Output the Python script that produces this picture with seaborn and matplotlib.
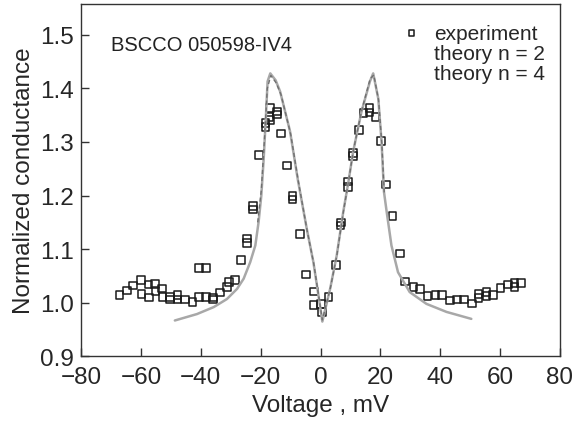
import numpy as np
import pandas as pd
import matplotlib
matplotlib.use('Agg')
import matplotlib.pyplot as plt
import seaborn as sns

exp_v = [-67.2, -64.6, -62.6, -60.1, -59.9, -57.5, -57.4, -55.3, -55.2, -52.9,
         -52.8, -50.4, -50.4, -47.8, -47.8, -45.4, -42.8, -40.7, -40.6, -38.3,
         -38.2, -35.9, -35.9, -33.7, -31.2, -30.5, -28.5, -26.5, -24.6, -24.6,
         -22.5, -22.5, -20.5, -18.4, -18.4, -17.1, -16.8, -16.8, -14.5, -14.5,
         -13.2, -11.2, -9.4, -9.4, -6.9, -4.8, -2.2, -2.4, 0.1, 0.5,
         2.7, 5.2, 6.7, 6.9, 9.1, 9.1, 10.9, 10.9, 12.8, 14.3,
         16.3, 16.3, 18.4, 20.2, 21.8, 24.1, 26.5, 28.3, 31.1, 33.3,
         35.7, 38.4, 40.7, 43.3, 45.6, 48.0, 50.6, 52.8, 52.8, 55.5,
         55.5, 57.6, 60.1, 62.6, 64.8, 64.8, 67.1]
exp_g = [1.015, 1.023, 1.032, 1.042, 1.016, 1.034, 1.010, 1.035, 1.022, 1.027,
         1.011, 1.011, 1.006, 1.015, 1.006, 1.006, 1.002, 1.065, 1.011, 1.065,
         1.011, 1.006, 1.010, 1.019, 1.030, 1.039, 1.042, 1.080, 1.120, 1.112,
         1.181, 1.174, 1.276, 1.335, 1.328, 1.347, 1.363, 1.341, 1.357, 1.351,
         1.316, 1.256, 1.199, 1.193, 1.128, 1.053, 1.021, 0.996, 0.998, 0.983,
         1.011, 1.070, 1.144, 1.150, 1.226, 1.216, 1.280, 1.274, 1.322, 1.354,
         1.363, 1.355, 1.347, 1.302, 1.221, 1.162, 1.092, 1.040, 1.029, 1.026,
         1.013, 1.014, 1.014, 1.004, 1.006, 1.006, 0.999, 1.016, 1.009, 1.020,
         1.013, 1.015, 1.028, 1.034, 1.037, 1.029, 1.037]

# theory curves
th2_v = [-48.7, -41.3, -35.7, -31.3, -27.9, -25.7, -23.5, -21.8, -20.7, -19.8,
         -19.0, -18.3, -17.7, -16.8, -15.0, -13.5, -10.2, -7.6, -4.6, -2.4,
         -0.7, 0.6, 3.2, 5.4, 7.6, 9.3, 10.9, 13.7, 16.5, 17.6,
         19.3, 20.4, 21.2, 22.1, 23.7, 25.9, 29.8, 35.4, 42.1, 50.4]
th2_g = [0.967, 0.979, 0.992, 1.007, 1.026, 1.045, 1.076, 1.107, 1.151, 1.200,
         1.269, 1.344, 1.413, 1.428, 1.415, 1.394, 1.320, 1.230, 1.138, 1.076,
         1.014, 0.965, 1.026, 1.088, 1.170, 1.225, 1.282, 1.357, 1.413, 1.428,
         1.381, 1.300, 1.207, 1.170, 1.107, 1.057, 1.020, 0.998, 0.983, 0.970]

th4_v = [-21.0, -19.8, -18.8, -17.8, -16.6, -14.8, -13.2, -10.0, -7.4, -4.5,
         -2.3, -0.6, 0.6, 3.3, 5.5, 7.7, 9.4, 11.0, 13.8, 16.6,
         17.8, 19.4, 20.5, 21.3]
th4_g = [1.150, 1.210, 1.300, 1.400, 1.424, 1.410, 1.388, 1.315, 1.226, 1.135,
         1.074, 1.012, 0.968, 1.028, 1.090, 1.172, 1.228, 1.285, 1.360, 1.418,
         1.425, 1.378, 1.296, 1.205]

exp_df = pd.DataFrame({'Voltage': exp_v, 'G': exp_g})
th2_df = pd.DataFrame({'Voltage': th2_v, 'G': th2_g})
th4_df = pd.DataFrame({'Voltage': th4_v, 'G': th4_g})

sns.set_style('white')
plt.rcParams['font.family'] = ['Liberation Sans', 'DejaVu Sans']

fig, ax = plt.subplots(figsize=(5.76, 4.27), dpi=100)
fig.subplots_adjust(left=0.141, right=0.972, bottom=0.163, top=0.989)

sns.lineplot(data=th2_df, x='Voltage', y='G', sort=False, estimator=None,
             color='#a8a8a8', linewidth=1.8, ax=ax, label='theory n = 2')
sns.lineplot(data=th4_df, x='Voltage', y='G', sort=False, estimator=None,
             color='#707070', linewidth=1.0, linestyle=(0, (3, 2)), ax=ax,
             label='theory n = 4')
sns.scatterplot(data=exp_df, x='Voltage', y='G', marker='s', s=30,
                facecolor='none', edgecolor='#1a1a1a', linewidth=1.1, ax=ax,
                label='experiment')

ax.set_xlim(-80, 80)
ax.set_ylim(0.9, 1.558)
ax.set_xticks(np.arange(-80, 81, 20))
ax.set_yticks(np.arange(0.9, 1.51, 0.1))
ax.set_yticklabels(['0.9', '1.0', '1.1', '1.2', '1.3', '1.4', '1.5'])
ax.set_xticklabels(['\u221280', '\u221260', '\u221240', '\u221220', '0', '20', '40', '60', '80'])
ax.tick_params(axis='both', direction='in', length=6, width=1, labelsize=17.5,
               color='#333333', left=True, bottom=True, top=False, right=False)
ax.tick_params(axis='x', pad=7)
ax.tick_params(axis='y', pad=5)
for sp in ax.spines.values():
    sp.set_color('#333333')
    sp.set_linewidth(1.0)

ax.set_xlabel('Voltage , mV', fontsize=17.5, labelpad=4)
ax.set_ylabel('Normalized conductance', fontsize=17.5, labelpad=4)

ax.text(-70.2, 1.481, 'BSCCO 050598-IV4', fontsize=14.5, va='center', ha='left',
        color='#222222')

handles, labels = ax.get_legend_handles_labels()
order = [labels.index('experiment'), labels.index('theory n = 2'), labels.index('theory n = 4')]
leg = ax.legend([handles[i] for i in order], [labels[i] for i in order],
                loc='upper right', bbox_to_anchor=(1.0, 0.985), frameon=False,
                fontsize=15, handlelength=1.0, handletextpad=0.6,
                labelspacing=0.05, borderaxespad=0.3, markerscale=0.7)
for h in leg.legend_handles[1:]:
    h.set_visible(False)

fig.savefig('out.png', dpi=100)
